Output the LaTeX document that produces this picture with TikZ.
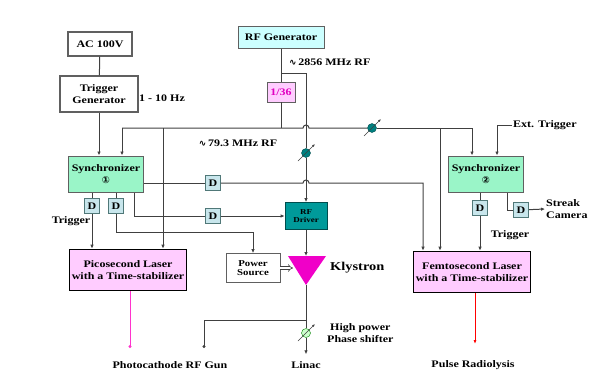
\documentclass[tikz,border=0pt]{standalone}
\usepackage{fontspec}
\setmainfont{Liberation Serif}[FakeStretch=1.2]
\newfontfamily\symfont{DejaVu Sans}
\usetikzlibrary{arrows.meta,positioning,calc}

\definecolor{wiregray}{HTML}{404040}
\definecolor{boxgray}{HTML}{606060}
\definecolor{rfcyan}{HTML}{CCFFFF}
\definecolor{syncgreen}{HTML}{9AF5C8}
\definecolor{dblue}{HTML}{C8E6EC}
\definecolor{dborder}{HTML}{507878}
\definecolor{driverteal}{HTML}{009A9A}
\definecolor{klymagenta}{HTML}{F000C8}
\definecolor{laserpink}{HTML}{FFCCFF}
\definecolor{divtext}{HTML}{E000C0}
\definecolor{shiftteal}{HTML}{008080}
\definecolor{shiftgreen}{HTML}{CCFFCC}
\definecolor{gunpink}{HTML}{FF33CC}

\newcommand{\wave}{{\symfont\fontsize{9}{9}\selectfont ∿}\,}

\begin{document}
\begin{tikzpicture}[x=1pt, y=-1pt,
    every node/.style={font=\bfseries\fontsize{10}{11.5}\selectfont, align=center, inner sep=1pt},
    box/.style={draw=boxgray, line width=1.3pt, fill=white},
    syncbox/.style={box, fill=syncgreen, line width=1pt, minimum width=75pt, minimum height=36pt},
    dbox/.style={draw=dborder, line width=0.8pt, fill=dblue, minimum width=15pt, minimum height=15pt, inner sep=0pt},
    laserbox/.style={draw=black, line width=1.6pt, fill=laserpink, minimum width=117pt, minimum height=41pt},
    shifter/.style={circle, draw=shiftteal!60!black, fill=shiftteal, minimum size=9pt, inner sep=0pt},
    wire/.style={draw=wiregray, line width=1pt},
    arr/.style={wire, -{Latex[length=4pt, width=3.5pt]}},
    lbl/.style={inner sep=1pt},
  ]
    \useasboundingbox (0,0) rectangle (607,389);

    % Trigger side
    \node[box, minimum width=64pt, minimum height=24pt] (ac) at (100,44) {AC 100V};
    \node[box, minimum width=78pt, minimum height=36pt] (trig) at (99,94) {Trigger\\Generator};
    \node[lbl] (hz) at (162,98) {1 - 10 Hz};

    % RF source
    \node[box, fill=rfcyan, line width=1pt, minimum width=86pt, minimum height=22pt] (rfgen) at (281,37) {RF Generator};
    \node[box, fill=laserpink, line width=0.8pt, minimum width=28pt, minimum height=20pt, text=divtext] (div) at (281,92) {1/36};
    \node[lbl, anchor=west] (rf2856) at (288,62) {\wave 2856 MHz RF};
    \node[lbl] (rf79) at (238,143) {\wave 79.3 MHz RF};

    % Synchronizers and delays
    \node[syncbox] (sync1) at (106,174) {Synchronizer\\{\symfont\fontsize{9.5}{9.5}\selectfont ①}};
    \node[syncbox] (sync2) at (486,174) {Synchronizer\\{\symfont\fontsize{9.5}{9.5}\selectfont ②}};
    \node[lbl, anchor=west] (exttrig) at (512,125) {Ext. Trigger};
    \node[dbox] (dA1) at (92,206) {D};
    \node[dbox] (dA2) at (116,206) {D};
    \node[dbox] (dB1) at (213,183) {D};
    \node[dbox] (dB2) at (213,216) {D};
    \node[dbox] (dC1) at (480,208) {D};
    \node[dbox] (dC2) at (521,210) {D};
    \node[lbl] (trigA) at (71,221) {Trigger};
    \node[lbl] (trigB) at (510,235) {Trigger};
    \node[lbl, anchor=west, align=left] (streak) at (545,209) {Streak\\Camera};

    % RF chain
    \node[draw=driverteal!50!black, fill=driverteal, line width=0.8pt, minimum width=42pt, minimum height=27pt,
          font=\bfseries\fontsize{7.5}{8}\selectfont] (driver) at (306,216) {RF\\Driver};
    \node[box, line width=0.8pt, minimum width=54pt, minimum height=29pt,
          font=\bfseries\fontsize{9}{9.5}\selectfont] (pwr) at (253,268) {Power\\Source};
    \fill[klymagenta] (288,256) -- (326,256) -- (306,285) -- cycle;
    \coordinate (klyin) at (306,256);
    \coordinate (klyout) at (306,285);
    \coordinate (klyside) at (293,268);
    \node[lbl, anchor=west, font=\bfseries\fontsize{12}{14}\selectfont] (klytext) at (329,268) {Klystron};
    \node[lbl, anchor=west] (hpps) at (326,333) {High power\\Phase shifter};

    % Lasers
    \node[laserbox] (pico) at (128,270) {Picosecond Laser\\with a Time-stabilizer};
    \node[laserbox] (femto) at (472,272) {Femtosecond Laser\\with a Time-stabilizer};

    % Targets
    \node[lbl] (gun) at (170,365) {Photocathode RF Gun};
    \node[lbl] (linac) at (306,365) {Linac};
    \node[lbl] (radio) at (473,365) {Pulse Radiolysis};

    % Phase shifters
    \node[shifter] (ps1) at (306,153) {};
    \node[shifter] (ps2) at (372,128) {};
    \node[shifter, draw=green!50!black, fill=shiftgreen] (ps3) at (306,333) {};

    % Named points on the wires
    \coordinate (busL) at (122,128);
    \coordinate (busR) at (472,128);
    \coordinate (busA) at (163,128);
    \coordinate (busB) at (440,128);
    \coordinate (split) at (281,73);
    \coordinate (fA) at ([xshift=-49pt]femto.north);
    \coordinate (pturn) at (116,232);
    \coordinate (tap) at (306,320);
    \coordinate (gunport) at (204,348);
    \coordinate (picoport) at (130,348);
    \coordinate (femtoport) at (475,344);

    % Trigger wires
    \draw[wire] (ac) -- (trig);
    \draw[arr] (trig) -- (trig |- sync1.north);
    \draw[arr] (exttrig.west) -| ([xshift=11pt]sync2.north);

    % RF distribution
    \draw[wire] (rfgen) -- (div);
    \draw[wire] (div) -- (div |- busL);
    \draw[wire] (split) -| (ps1);
    \draw[arr] (ps1) -- (driver);
    \draw[wire] (busL) -- ([xshift=-3pt]ps1 |- busL) arc[start angle=180, end angle=0, radius=3pt] -- (ps2);
    \draw[wire] (ps2) -- (busR);
    \draw[arr] (busL) -- (busL |- sync1.north);
    \draw[arr] (busR) -- (busR |- sync2.north);
    \draw[arr] (busA) -- (busA |- pico.north);
    \draw[arr] (busB) -- (busB |- femto.north);

    % Synchronizer 1 outputs
    \draw[wire] (sync1.east |- dB1) -- (dB1);
    \draw[arr] (dB1) -- ([xshift=-3pt]ps1 |- dB1) arc[start angle=180, end angle=0, radius=3pt] -| (fA);
    \draw[wire] ([xshift=28pt]sync1.south) |- (dB2);
    \draw[arr] (dB2) -- (driver);
    \draw[wire] (sync1.south -| dA1) -- (dA1);
    \draw[wire] (sync1.south -| dA2) -- (dA2);
    \draw[arr] (dA1) -- (dA1 |- pico.north);
    \draw[arr] (dA2) -- (pturn) -| (pwr);

    % Synchronizer 2 outputs
    \draw[wire] (sync2.south -| dC1) -- (dC1);
    \draw[arr] (dC1) -- (dC1 |- femto.north);
    \draw[wire] ([xshift=21pt]sync2.south) |- (dC2);
    \draw[arr] (dC2) -- (streak.west);

    % Klystron and outputs
    \draw[arr] (driver) -- (klyin);
    \draw[wiregray, double=white, double distance=2pt, line width=0.6pt, -{Implies}] (pwr) -- (klyside);
    \draw[wire] (klyout) -- (ps3);
    \draw[arr, shorten >=6pt] (ps3) -- (linac);
    \draw[wire, -{Circle[length=3pt]}] (tap) -| (gunport);
    \draw[draw=gunpink, line width=1pt, -{Circle[length=3pt]}] (pico.south -| picoport) -- (picoport);
    \draw[draw=red, line width=1pt, -{Latex[length=4pt, width=3pt]}] (femto.south -| femtoport) -- (femtoport);

    % Shifter arrows
    \foreach \s in {ps1,ps2,ps3}
        \draw[wiregray, line width=0.6pt, -{Latex[length=3pt, width=2.5pt]}] ($(\s)+(-8,8)$) -- ($(\s)+(9,-9)$);
\end{tikzpicture}
\end{document}
